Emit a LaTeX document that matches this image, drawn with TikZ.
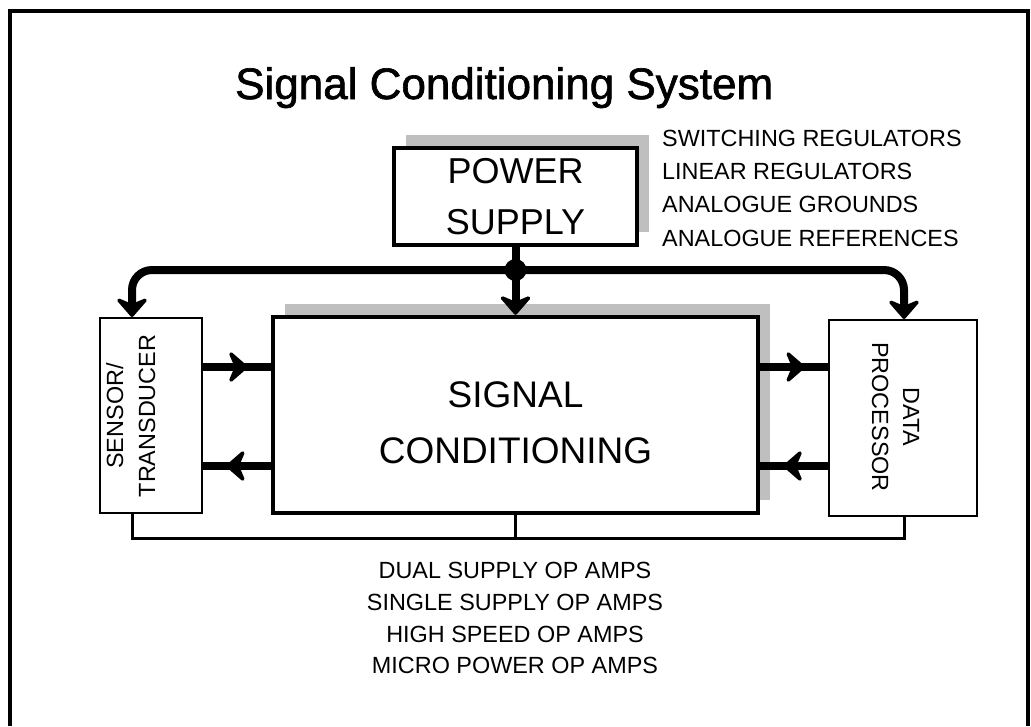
\documentclass[tikz,border=0pt]{standalone}
\usepackage{fontspec}
\setmainfont{Liberation Sans}
\newfontfamily\titlefont[FakeBold=1.5]{Liberation Sans}
\usetikzlibrary{arrows.meta,decorations.markings,shadows}
\begin{document}
\begin{tikzpicture}[x=1pt,y=-1pt,
  myhead/.tip={Stealth[length=22pt,width=38pt,inset=8pt,round]},
  shadowed/.style={drop shadow={shadow xshift=12pt,shadow yshift=13pt,fill=black!25,opacity=1}},
  thickbox/.style={draw,line width=4.5pt,fill=white,inner sep=0pt,shadowed},
  thinbox/.style={draw,line width=2pt,fill=white,inner sep=0pt},
  bus/.style={line width=8pt},
  bracket/.style={line width=3pt},
  midarrow/.style={bus,postaction=decorate,decoration={markings,mark=at position 0.66 with {\arrow{myhead}}}},
  lbl/.style={font=\fontsize{23.4}{28}\selectfont,inner sep=0pt,anchor=base},
  lbll/.style={lbl,anchor=base west},
  bigl/.style={font=\fontsize{36}{44}\selectfont,inner sep=0pt,anchor=base},
  titl/.style={font=\titlefont\fontsize{44}{50}\selectfont,inner sep=0pt,anchor=base west}
]
\useasboundingbox (0,0) rectangle (1031,726);
\fill[white] (0,0) rectangle (1031,726);
\draw[line width=3.5pt] (10,726) -- (10,11) -- (1028,11) -- (1028,726);

\node[titl] (title) at (235,99) {Signal Conditioning System};

% boxes
\node[thickbox,minimum width=243pt,minimum height=97pt] (ps) at (515.5,196.5) {};
\node[thickbox,minimum width=485pt,minimum height=196pt] (sc) at (515.5,415) {};
\node[thinbox,minimum width=102pt,minimum height=195pt] (sen) at (151,415.5) {};
\node[thinbox,minimum width=148pt,minimum height=196pt] (dp) at (903,418) {};

% box texts
\node[bigl] (pw1) at (515.5,183) {POWER};
\node[bigl] (pw2) at (515.5,234) {SUPPLY};
\node[bigl,font=\fontsize{37}{44}\selectfont] (sg1) at (515.5,407) {SIGNAL};
\node[bigl,font=\fontsize{37}{44}\selectfont] (sg2) at (515.5,463) {CONDITIONING};
\node[lbl,rotate=90] (se1) at (123,416) {SENSOR/};
\node[lbl,rotate=90] (se2) at (155,416) {TRANSDUCER};
\node[lbl,rotate=-90] (dp1) at (903,417) {DATA};
\node[lbl,rotate=-90] (dp2) at (872,417) {PROCESSOR};

% power supply notes
\node[lbll] (n1) at (662,146) {SWITCHING REGULATORS};
\node[lbll] (n2) at (662,179) {LINEAR REGULATORS};
\node[lbll] (n3) at (662,212.5) {ANALOGUE GROUNDS};
\node[lbll] (n4) at (662,246) {ANALOGUE REFERENCES};

% op amp notes
\node[lbl] (o1) at (515,578) {DUAL SUPPLY OP AMPS};
\node[lbl] (o2) at (515,610) {SINGLE SUPPLY OP AMPS};
\node[lbl] (o3) at (515,642) {HIGH SPEED OP AMPS};
\node[lbl] (o4) at (515,673) {MICRO POWER OP AMPS};

% helper coordinates
\coordinate (busy) at (0,270);
\coordinate (sx) at (132,0);
\coordinate (dx) at (904,0);
\coordinate (bry) at (0,538);
\coordinate (r1) at (0,367);
\coordinate (r2) at (0,466);

% power bus
\node[circle,fill=black,inner sep=0pt,minimum size=22pt] (jn) at (ps.south |- busy) {};
\draw[bus] (ps.south) -- (jn.center);
\draw[bus,-{myhead}] (jn.center) -- (sc.north);
\draw[bus,rounded corners=20pt,-{myhead}] (jn.center) -| (sx |- sen.north);
\draw[bus,rounded corners=20pt,-{myhead}] (jn.center) -| (dx |- dp.north);

% signal arrows
\draw[midarrow] (sen.east |- r1) -- (sc.west |- r1);
\draw[midarrow] (sc.west |- r2) -- (sen.east |- r2);
\draw[midarrow] (sc.east |- r1) -- (dp.west |- r1);
\draw[midarrow] (dp.west |- r2) -- (sc.east |- r2);

% bottom bracket
\draw[bracket] (sx |- sen.south) -- (sx |- bry) -- (dx |- bry) -- (dx |- dp.south);
\draw[bracket] (sc.south) -- (sc.south |- bry);
\end{tikzpicture}
\end{document}
